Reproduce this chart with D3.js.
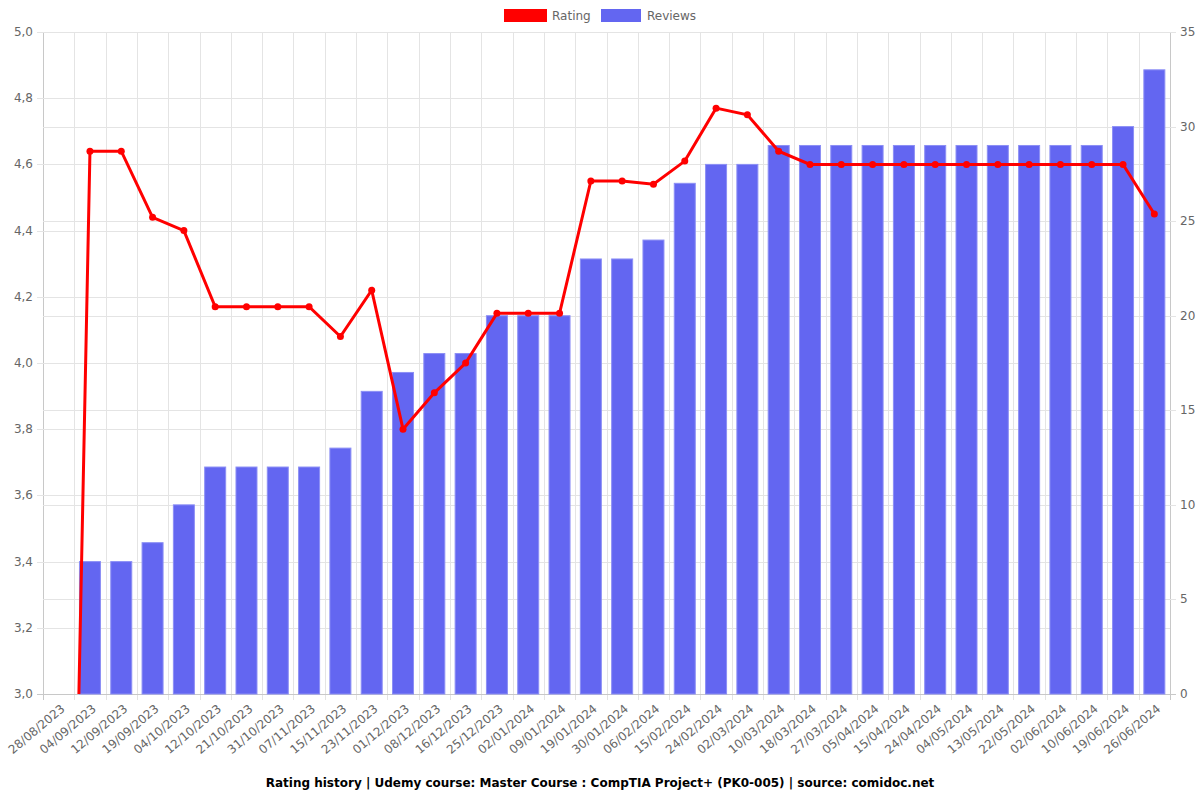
<!DOCTYPE html>
<html>
<head>
<meta charset="utf-8">
<script src="https://cdn.jsdelivr.net/npm/d3@7"></script>
<style>
  body { margin: 0; background: #fff; }
  text { font-family: "DejaVu Sans", sans-serif; }
</style>
</head>
<body>
<svg id="chart" width="1200" height="800"></svg>
<script>
var dates = ["28/08/2023", "04/09/2023", "12/09/2023", "19/09/2023", "04/10/2023", "12/10/2023",
  "21/10/2023", "31/10/2023", "07/11/2023", "15/11/2023", "23/11/2023", "01/12/2023",
  "08/12/2023", "16/12/2023", "25/12/2023", "02/01/2024", "09/01/2024", "19/01/2024",
  "30/01/2024", "06/02/2024", "15/02/2024", "24/02/2024", "02/03/2024", "10/03/2024",
  "18/03/2024", "27/03/2024", "05/04/2024", "15/04/2024", "24/04/2024", "04/05/2024",
  "13/05/2024", "22/05/2024", "02/06/2024", "10/06/2024", "19/06/2024", "26/06/2024"];
var ratings = [0, 4.64, 4.64, 4.44, 4.4, 4.17, 4.17, 4.17, 4.17, 4.08, 4.22, 3.8,
  3.91, 4.0, 4.15, 4.15, 4.15, 4.55, 4.55, 4.54, 4.61, 4.77, 4.75, 4.64,
  4.6, 4.6, 4.6, 4.6, 4.6, 4.6, 4.6, 4.6, 4.6, 4.6, 4.6, 4.45];
var reviews = [0, 7, 7, 8, 10, 12, 12, 12, 12, 13, 16, 17,
  18, 18, 20, 20, 20, 23, 23, 24, 27, 28, 28, 29,
  29, 29, 29, 29, 29, 29, 29, 29, 29, 29, 30, 33];
var leftTicks = [3.0, 3.2, 3.4, 3.6, 3.8, 4.0, 4.2, 4.4, 4.6, 4.8, 5.0];
var rightTicks = [0, 5, 10, 15, 20, 25, 30, 35];
var title = "Rating history | Udemy course: Master Course : CompTIA Project+ (PK0-005) | source: comidoc.net";

var svg = d3.select("#chart");
var plotL = 43, plotR = 1170, plotT = 32, plotB = 694;

var x = d3.scaleBand().domain(dates).range([plotL, plotR]);
var yL = d3.scaleLinear().domain([3, 5]).range([plotB, plotT]);
var yR = d3.scaleLinear().domain([0, 35]).range([plotB, plotT]);

// grid lines
var grid = svg.append("g");
// vertical grid between categories
d3.range(dates.length + 1).forEach(function (i) {
  var gx = Math.round(plotL + i * x.step()) + 0.5;
  grid.append("line")
    .attr("x1", gx).attr("x2", gx)
    .attr("y1", plotT).attr("y2", plotB + 6)
    .attr("stroke", i == 0 || i == dates.length ? "#c8c8c8" : "#e4e4e4");
});
leftTicks.forEach(function (t) {
  var gy = Math.round(yL(t)) + 0.5;
  grid.append("line")
    .attr("x1", plotL - 6).attr("x2", plotR)
    .attr("y1", gy).attr("y2", gy)
    .attr("stroke", t == 3 ? "#c8c8c8" : "#e4e4e4");
});
rightTicks.forEach(function (t) {
  var gy = Math.round(yR(t)) + 0.5;
  grid.append("line")
    .attr("x1", plotL).attr("x2", plotR + 6)
    .attr("y1", gy).attr("y2", gy)
    .attr("stroke", t == 0 ? "#c8c8c8" : "#e4e4e4");
});

// left axis labels
svg.append("g").selectAll("text")
  .data(leftTicks)
  .enter()
  .append("text")
  .attr("x", plotL - 10)
  .attr("y", function (d) { return yL(d) + 4; })
  .attr("text-anchor", "end")
  .attr("font-size", 12)
  .attr("fill", "#666")
  .text(function (d) { return d3.format(".1f")(d).replace(".", ","); });

// right axis labels
svg.append("g").selectAll("text")
  .data(rightTicks)
  .enter()
  .append("text")
  .attr("x", plotR + 10)
  .attr("y", function (d) { return yR(d) + 4; })
  .attr("text-anchor", "start")
  .attr("font-size", 12)
  .attr("fill", "#666")
  .text(function (d) { return d; });

// x labels
svg.append("g").selectAll("text")
  .data(dates)
  .enter()
  .append("text")
  .attr("transform", function (d) {
    return "translate(" + (x(d) + x.bandwidth() / 2 + 7) + "," + (plotB + 16) + ") rotate(-40)";
  })
  .attr("text-anchor", "end")
  .attr("font-size", 12)
  .attr("fill", "#666")
  .text(function (d) { return d; });

// bars
var barW = 21;
svg.append("g").selectAll("rect")
  .data(reviews)
  .enter()
  .append("rect")
  .attr("x", function (d, i) { return x(dates[i]) + x.bandwidth() / 2 - barW / 2; })
  .attr("y", function (d) { return yR(d); })
  .attr("width", barW)
  .attr("height", function (d) { return plotB - yR(d); })
  .attr("fill", "#6366f1")
  .attr("stroke", "#8c8ff5")
  .attr("stroke-width", 1);

// rating line
svg.append("clipPath").attr("id", "plotclip")
  .append("rect").attr("x", plotL).attr("y", plotT - 10)
  .attr("width", plotR - plotL).attr("height", plotB - plotT + 10);

var line = d3.line()
  .x(function (d, i) { return x(dates[i]) + x.bandwidth() / 2; })
  .y(function (d) { return yL(d); });

var lg = svg.append("g").attr("clip-path", "url(#plotclip)");
lg.append("path")
  .datum(ratings)
  .attr("d", line)
  .attr("fill", "none")
  .attr("stroke", "#ff0000")
  .attr("stroke-width", 3);
lg.selectAll("circle")
  .data(ratings)
  .enter()
  .append("circle")
  .attr("cx", function (d, i) { return x(dates[i]) + x.bandwidth() / 2; })
  .attr("cy", function (d) { return yL(d); })
  .attr("r", 3.5)
  .attr("fill", "#ff0000");

// legend
var legend = svg.append("g");
legend.append("rect").attr("x", 504).attr("y", 9).attr("width", 43).attr("height", 13).attr("fill", "#ff0000");
legend.append("text").attr("x", 552).attr("y", 20).attr("font-size", 12).attr("fill", "#666").text("Rating");
legend.append("rect").attr("x", 601).attr("y", 9).attr("width", 40).attr("height", 13).attr("fill", "#6366f1");
legend.append("text").attr("x", 647).attr("y", 20).attr("font-size", 12).attr("fill", "#666").text("Reviews");

// title
svg.append("text")
  .attr("x", 600)
  .attr("y", 787)
  .attr("text-anchor", "middle")
  .attr("font-size", 12)
  .attr("font-weight", "bold")
  .attr("fill", "#000")
  .text(title);
</script>
</body>
</html>
